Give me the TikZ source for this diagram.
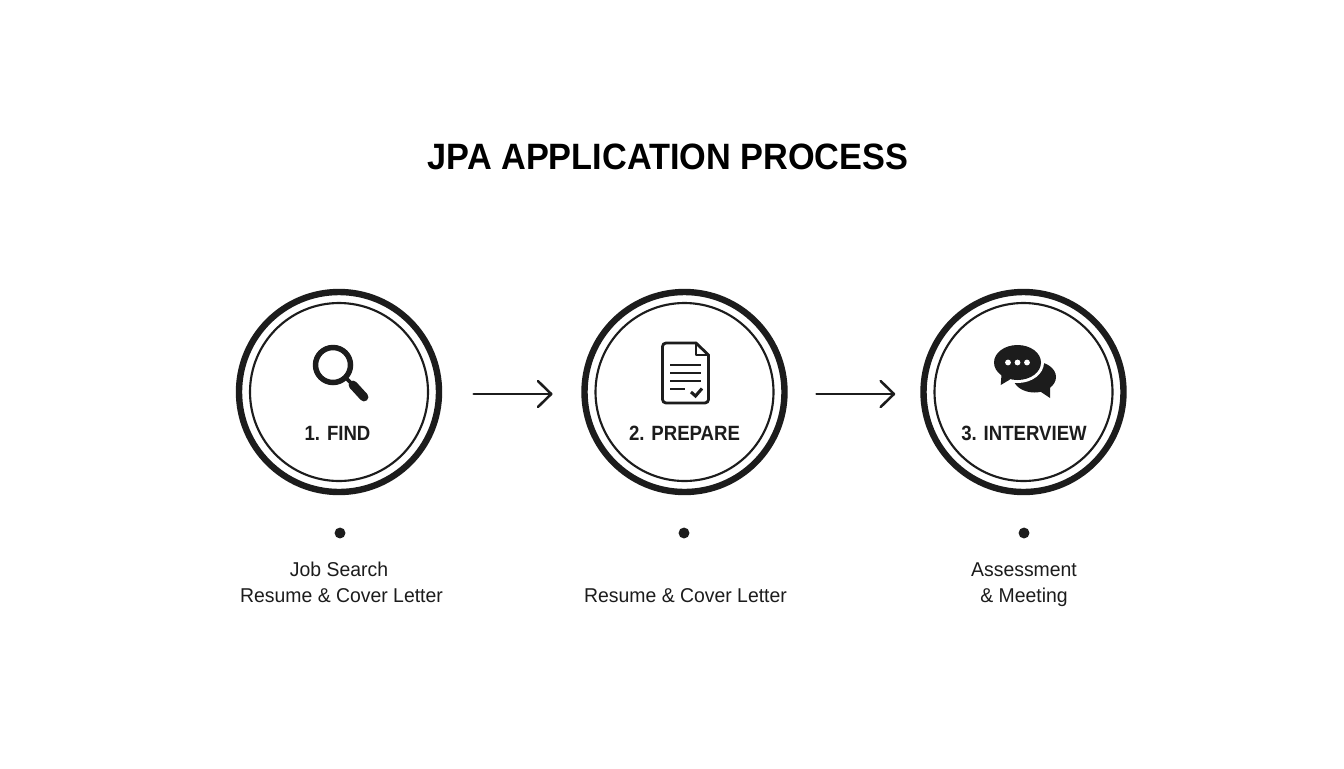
\documentclass[tikz,border=0pt]{standalone}
\usepackage{fontspec}
\setmainfont{Liberation Sans}
\newfontfamily\titlefam[FakeStretch=0.935]{Liberation Sans}
\newfontfamily\labelfam[FakeStretch=0.90]{Liberation Sans}
\newfontfamily\bodyfam[FakeStretch=0.97]{Liberation Sans}
\usetikzlibrary{arrows.meta}
\definecolor{ink}{HTML}{1C1C1C}
\tikzset{
  px/.style={x=0.75pt,y=-0.75pt},
  ring/.style={circle,draw=ink,line width=4.8pt,minimum size=150pt,inner sep=0pt,outer sep=0pt},
  innerring/.style={circle,draw=ink,line width=1.6pt,minimum size=133.5pt,inner sep=0pt},
  steplabel/.style={font=\labelfam\fontsize{15.5}{18}\selectfont\bfseries,text=ink,inner sep=0pt,anchor=base},
  bodytext/.style={font=\bodyfam\fontsize{15}{18}\selectfont,text=ink,inner sep=0pt,anchor=base},
  titletext/.style={font=\titlefam\fontsize{27.5}{32}\selectfont\bfseries,text=black,inner sep=0pt,anchor=base},
  bullet/.style={circle,fill=ink,minimum size=8.2pt,inner sep=0pt},
  flow/.style={draw=ink,line width=1.9pt,-{Straight Barb[length=10pt,width=19.5pt,line width=1.9pt,round]},line cap=round},
  iconline/.style={draw=ink,line width=2.1pt,line cap=round,line join=round},
}
\begin{document}
\begin{tikzpicture}[px]
\useasboundingbox (0,0) rectangle (1344,768);
\fill[white] (0,0) rectangle (1344,768);
\node[titletext] (title) at (668,169.5) {JPA APPLICATION PROCESS};
% rings
\node[ring] (c1) at (339,392) {};
\node[ring] (c2) at (684.5,392) {};
\node[ring] (c3) at (1023.5,392) {};
\node[innerring] (i1) at (c1) {};
\node[innerring] (i2) at (c2) {};
\node[innerring] (i3) at (c3) {};
% labels
\node[steplabel] (l1) at (337.5,440) {1. FIND};
\node[steplabel] (l2) at (684.5,440) {2. PREPARE};
\node[steplabel] (l3) at (1024,440) {3. INTERVIEW};
% connectors
\draw[flow,shorten <=26pt,shorten >=24pt] ([yshift=-1.5pt]c1.east) -- ([yshift=-1.5pt]c2.west);
\draw[flow,shorten <=24pt,shorten >=21.2pt] ([yshift=-1.5pt]c2.east) -- ([yshift=-1.5pt]c3.west);
% bullets
\node[bullet] (d1) at (340,533) {};
\node[bullet] (d2) at (684,533) {};
\node[bullet] (d3) at (1024,533) {};
% descriptions
\node[bodytext] (t1a) at (339,576) {Job Search};
\node[bodytext] (t1b) at (341.5,602) {Resume \& Cover Letter};
\node[bodytext] (t2b) at (685.5,602) {Resume \& Cover Letter};
\node[bodytext] (t3a) at (1024,576) {Assessment};
\node[bodytext] (t3b) at (1024,602) {\& Meeting};
% magnifier
\draw[ink,line width=4.1pt] (333,365) circle (17.5);
\draw[ink,line width=2.8pt] (346,378) -- (353,385);
\draw[ink,line width=6.6pt,line cap=round] (353,385) -- (364,397);
% document
\draw[iconline] (696,343) -- (666,343) to[out=180,in=90] (662.5,346.5) -- (662.5,399.5) to[out=-90,in=180] (666,403) -- (705,403) to[out=0,in=-90] (708.5,399.5) -- (708.5,355) -- cycle;
\draw[iconline] (696,343) -- (696,355) -- (708.5,355);
\draw[iconline,line cap=butt] (670,365) -- (701,365);
\draw[iconline,line cap=butt] (670,373) -- (701,373);
\draw[iconline,line cap=butt] (670,381) -- (701,381);
\draw[iconline,line cap=butt] (670,389) -- (685,389);
\draw[iconline,line width=2.3pt,line cap=butt,line join=miter] (691,392) -- (695.5,396) -- (702,388.5);
% chat bubbles
\fill[ink] (1034.5,377) ellipse (21.5 and 15.5);
\fill[ink] (1038,390) -- (1050,398) -- (1050,386) -- cycle;
\fill[white] (1017.5,362.5) ellipse (26.5 and 20.5);
\fill[ink] (1017.5,362.5) ellipse (23.5 and 17.5);
\fill[ink] (1001.7,372) -- (1000.7,385) -- (1010,379.5) -- cycle;
\fill[white] (1008,362.5) circle (2.9);
\fill[white] (1017.5,362.5) circle (2.9);
\fill[white] (1027,362.5) circle (2.9);
\end{tikzpicture}
\end{document}
